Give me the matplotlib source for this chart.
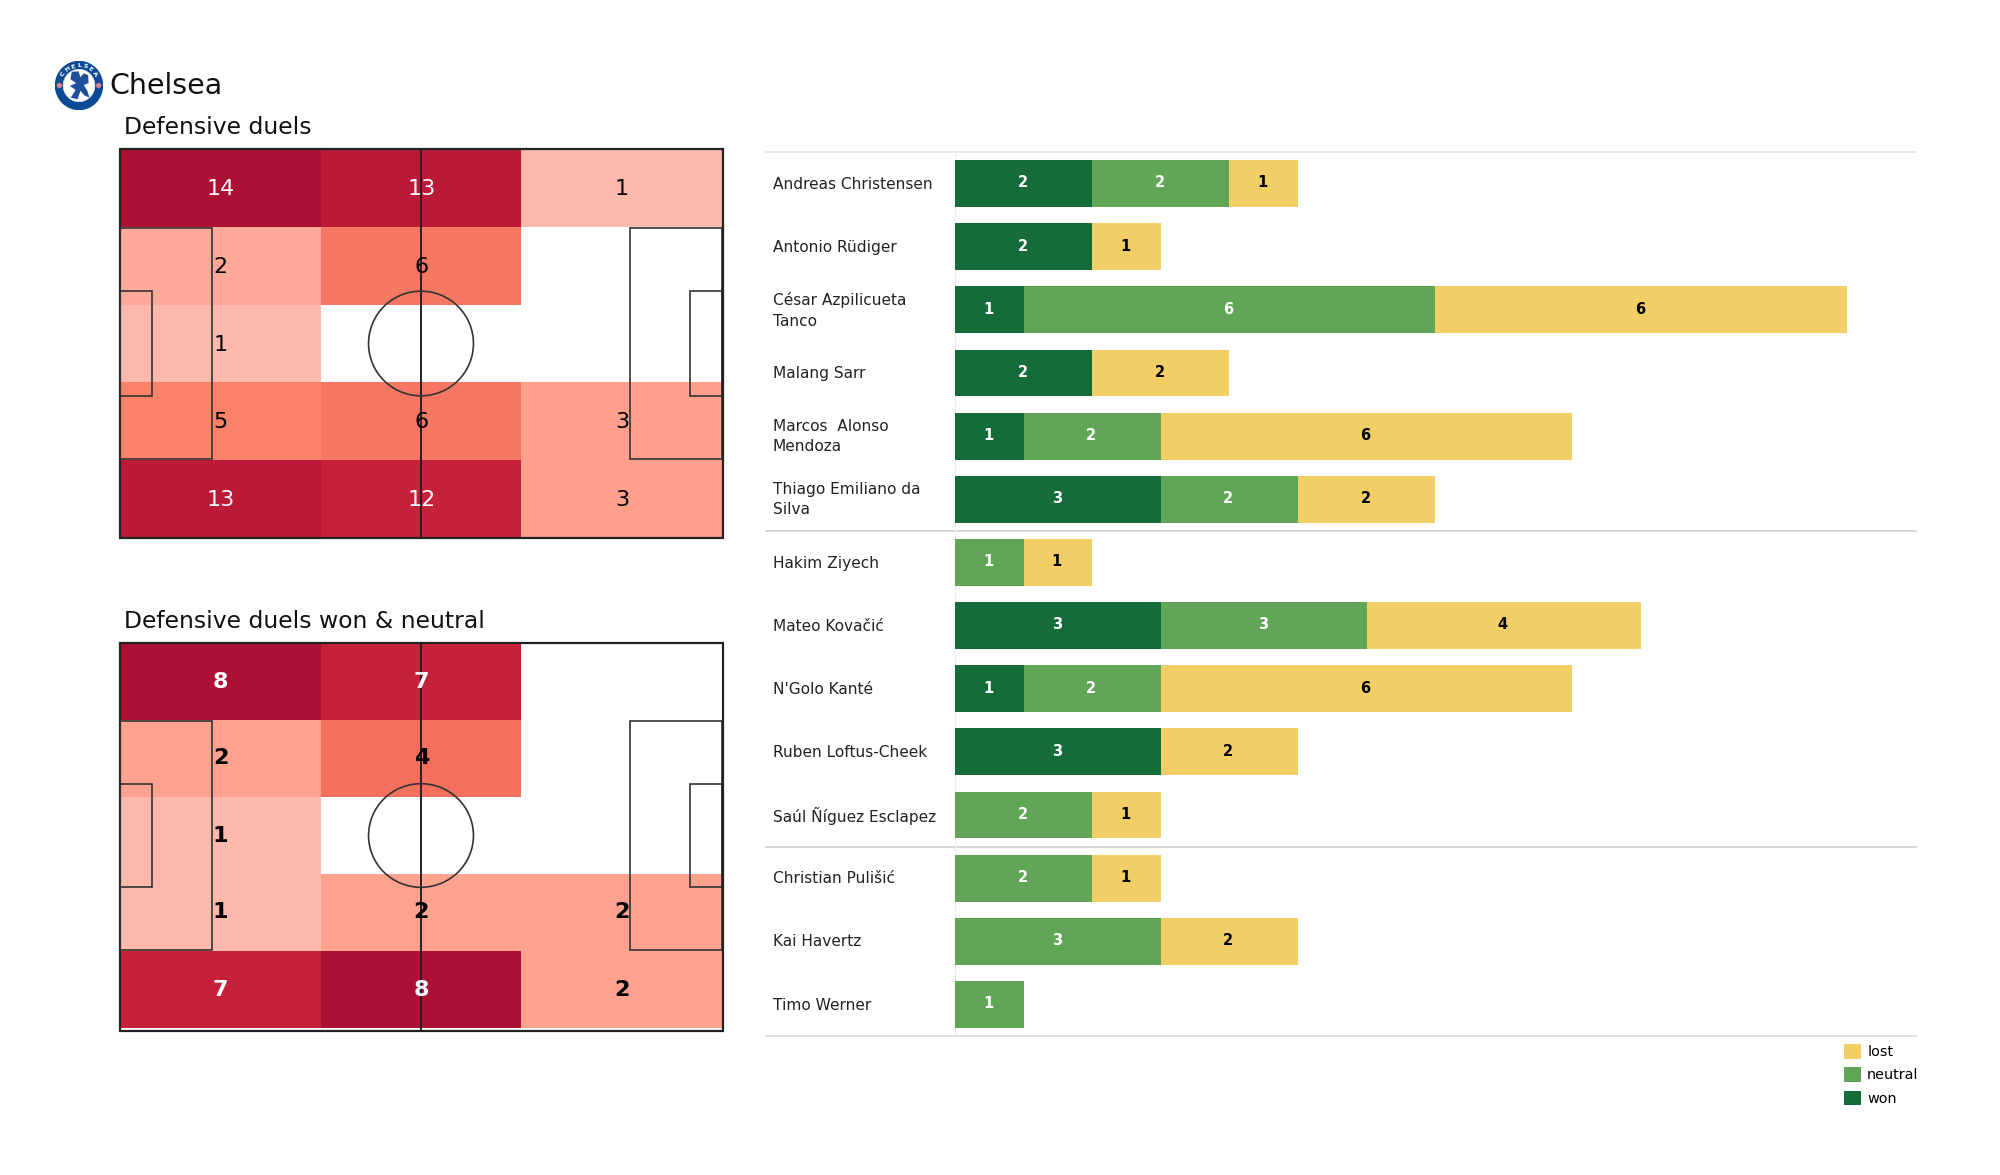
import numpy as np
import matplotlib
matplotlib.use('Agg')
import matplotlib.pyplot as plt
from matplotlib.colors import BoundaryNorm, ListedColormap
from matplotlib.patches import Circle, Ellipse, Polygon, Rectangle

W, H = 2000, 1175

# pitch grids, rows top to bottom, columns left to right
duels = [[14, 13, 1],
         [2, 6, 0],
         [1, 0, 0],
         [5, 6, 3],
         [13, 12, 3]]
duels_won = [[8, 7, 0],
             [2, 4, 0],
             [1, 0, 0],
             [1, 2, 2],
             [7, 8, 2]]

duels_levels = [0, 1, 2, 3, 5, 6, 12, 13, 14]
duels_colors = ['#ffffff', '#ffb9ac', '#ffaa98', '#ffa08c', '#f98268', '#f67862',
                '#c5213b', '#ba1a38', '#ad1035']
won_levels = [0, 1, 2, 4, 7, 8]
won_colors = ['#ffffff', '#ffb9ac', '#ffa28e', '#f5705c', '#c5213b', '#ad1035']

players = ['Andreas Christensen', 'Antonio Rüdiger', 'César Azpilicueta\nTanco',
           'Malang Sarr', 'Marcos  Alonso\nMendoza', 'Thiago Emiliano da\nSilva',
           'Hakim Ziyech', 'Mateo Kovačić', "N'Golo Kanté", 'Ruben Loftus-Cheek',
           'Saúl Ñíguez Esclapez', 'Christian Pulišić', 'Kai Havertz', 'Timo Werner']
won = [2, 2, 1, 2, 1, 3, 0, 3, 1, 3, 0, 0, 0, 0]
neutral = [2, 0, 6, 0, 2, 2, 1, 3, 2, 0, 2, 2, 3, 1]
lost = [1, 1, 6, 2, 6, 2, 1, 4, 6, 2, 1, 1, 2, 0]

WON, NEUTRAL, LOST = '#156c3a', '#61a657', '#f2cf66'
LINE = '#333333'


def axes_px(fig, left, top, right, bottom):
    return fig.add_axes([left / W, 1 - bottom / H, (right - left) / W, (bottom - top) / H])


def draw_pitch(ax, grid, levels, colors, bold, text_dy=0.0, frame_bottom=0.0):
    cmap = ListedColormap(colors)
    norm = BoundaryNorm(np.array(levels + [levels[-1] + 1]) - 0.5, cmap.N)
    xedges = np.linspace(0, 105, 4)
    yedges = np.linspace(68, 0, 6)
    ax.pcolormesh(xedges, yedges, np.array(grid), cmap=cmap, norm=norm, zorder=1)
    for r, row in enumerate(grid):
        for c, v in enumerate(row):
            if v == 0:
                continue
            ax.text((xedges[c] + xedges[c + 1]) / 2 + 0.05, (yedges[r] + yedges[r + 1]) / 2 + text_dy, str(v),
                    ha='center', va='center', fontsize=16,
                    fontweight='bold' if bold else 'normal',
                    color='white' if v >= 7 else 'black', zorder=4)
    lw = 1.2
    ax.add_patch(Rectangle((0, frame_bottom), 105.2, 68 - frame_bottom, fill=False, ec='#222222', lw=1.6,
                           zorder=3, clip_on=False))
    ax.plot([52.5, 52.5], [frame_bottom, 68], color='#222222', lw=1.4, zorder=3, clip_on=False)
    ax.add_patch(Ellipse((52.5, 34), 18.3, 18.3, fill=False, ec=LINE, lw=lw, zorder=3))
    for x0, w16, w6 in [(0, 16.1, 5.5), (105, -16.1, -5.5)]:
        ax.add_patch(Rectangle((x0, 13.8), w16, 40.4, fill=False, ec=LINE, lw=lw, zorder=3))
        ax.add_patch(Rectangle((x0, 24.85), w6, 18.3, fill=False, ec=LINE, lw=lw, zorder=3))
    ax.set_xlim(0, 105)
    ax.set_ylim(0, 68)
    ax.axis('off')


def draw_badge(ax):
    ax.set_xlim(-1, 1)
    ax.set_ylim(-1, 1)
    ax.axis('off')
    ax.add_patch(Circle((0, 0), 0.98, fc='#0b4a94', ec='#0b4a94'))
    ax.add_patch(Circle((0, 0), 0.66, fc='white', ec='#e8e8e8', lw=0.5))
    for x in (-0.82, 0.82):
        ax.add_patch(Circle((x, 0), 0.11, fc='#d9838f', ec='none'))
    ax.add_patch(Polygon([(-0.3, 0.56), (-0.02, 0.58), (0.06, 0.34), (0.2, 0.5), (0.38, 0.42), (0.4, 0.1),
                          (0.2, 0.02), (0.34, -0.2), (0.44, -0.5), (0.22, -0.4), (0.06, -0.22), (-0.06, -0.56),
                          (-0.34, -0.5), (-0.14, -0.18), (-0.38, -0.02), (-0.12, 0.1), (-0.36, 0.26)],
                         fc='#1f4f9c', ec='none'))
    for i, ch in enumerate('CHELSEA'):
        a = np.deg2rad(90 + (3 - i) * 18)
        ax.text(0.81 * np.cos(a), 0.81 * np.sin(a), ch, color='white', fontsize=4.6, fontweight='bold',
                ha='center', va='center', rotation=np.rad2deg(a) - 90)


fig = plt.figure(figsize=(W / 100, H / 100), dpi=100, facecolor='white')

draw_badge(axes_px(fig, 55, 61, 103, 110))
fig.text(109 / W, 1 - 85.7 / H, 'Chelsea', fontsize=20.5, va='center', color='#111111')
fig.text(124 / W, 1 - 127.2 / H, 'Defensive duels', fontsize=16.9, va='center', color='#111111')
fig.text(124 / W, 1 - 621.2 / H, 'Defensive duels won & neutral', fontsize=16.9, va='center', color='#111111')

draw_pitch(axes_px(fig, 120, 149, 722, 538), duels, duels_levels, duels_colors, False, text_dy=-0.2)
draw_pitch(axes_px(fig, 120, 643, 722, 1028), duels_won, won_levels, won_colors, True, frame_bottom=-0.5)

# stacked bars
ax = axes_px(fig, 955, 152, 1916, 1036)
y = np.arange(len(players))
left = np.zeros(len(players))
for vals, col, name, txt in [(won, WON, 'won', 'white'), (neutral, NEUTRAL, 'neutral', 'white'),
                             (lost, LOST, 'lost', 'black')]:
    bars = ax.barh(y, vals, left=left, height=0.74, color=col, label=name)
    for b, v in zip(bars, vals):
        if v:
            ax.text(b.get_x() + b.get_width() / 2 - 0.015, b.get_y() + b.get_height() / 2 - 0.01, str(v),
                    ha='center', va='center', fontsize=10.5, fontweight='bold', color=txt)
    left += np.array(vals)

ax.set_xlim(0, 14.01)
ax.set_ylim(13.5, -0.5)
ax.axis('off')
for i, name in enumerate(players):
    ax.text(-2.66, i + 0.01, name, ha='left', va='center', fontsize=11.1, color='#222222', clip_on=False,
            linespacing=1.42)
for yy, col in [(-0.5, '#e6e6e6'), (5.5, '#cfcfcf'), (10.5, '#cfcfcf'), (13.5, '#dddddd')]:
    ax.plot([-2.755, 14.01], [yy, yy], color=col, lw=1.2, clip_on=False, zorder=0)
ax.plot([0, 0], [-0.5, 13.5], color='#eeeeee', lw=1, zorder=0)

handles, labels = ax.get_legend_handles_labels()
fig.legend(handles[::-1], labels[::-1], loc='upper left', bbox_to_anchor=(1838 / W, 1 - 1038 / H),
           frameon=False, fontsize=10.4, handlelength=1.2, handleheight=1.2, handletextpad=0.42,
           labelspacing=0.56, borderpad=0.4, borderaxespad=0)

fig.savefig('out.png', dpi=100, facecolor='white')
